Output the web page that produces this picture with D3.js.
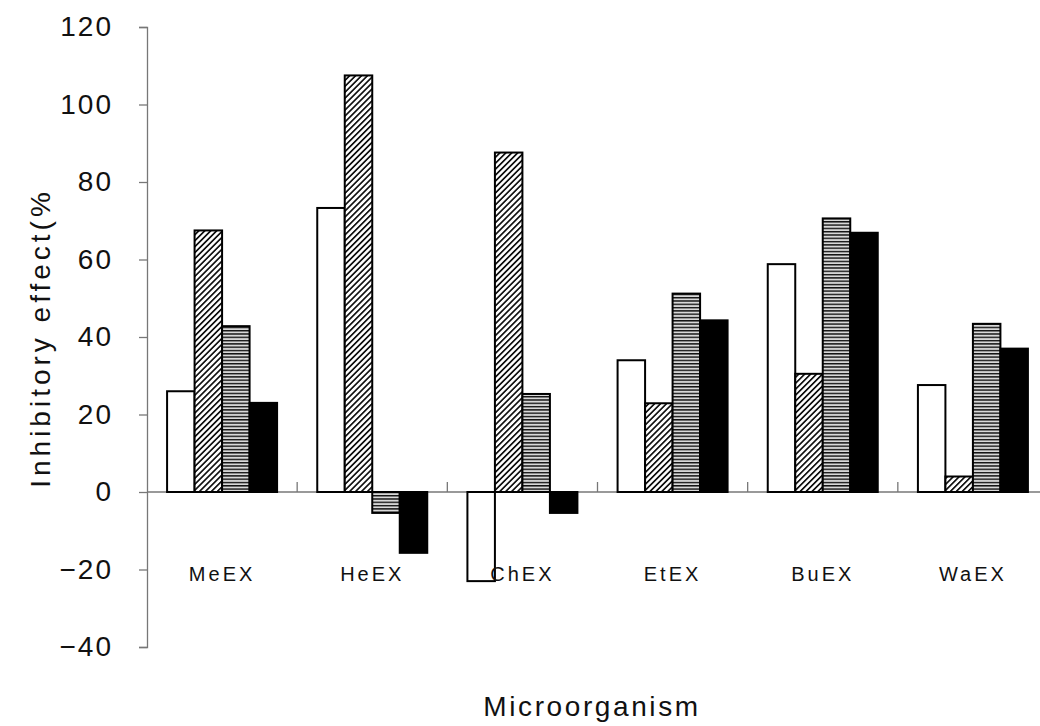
<!DOCTYPE html>
<html>
<head>
<meta charset="utf-8">
<script src="https://cdn.jsdelivr.net/npm/d3@7"></script>
<style>
  html, body { margin: 0; padding: 0; background: #fff; }
  svg { display: block; }
  text { font-family: "Liberation Sans", Arial, sans-serif; fill: #111; }
</style>
</head>
<body>
<svg id="chart" width="1040" height="726"></svg>
<script>
// Extract fractions
const categories = ["MeEX", "HeEX", "ChEX", "EtEX", "BuEX", "WaEX"];
// Four test series, one bar each per extract (inhibitory effect, %)
const seriesKeys = ["s1", "s2", "s3", "s4"];
const s1 = [26, 73.3, -23, 34, 58.8, 27.6];
const s2 = [67.5, 107.5, 87.6, 22.9, 30.5, 4.0];
const s3 = [42.8, -5.4, 25.3, 51.2, 70.6, 43.4];
const s4 = [23.0, -15.7, -5.4, 44.3, 66.9, 37.0];
const seriesValues = [s1, s2, s3, s4];
const yTicks = [-40, -20, 0, 20, 40, 60, 80, 100, 120];

const svg = d3.select("#chart");
const defs = svg.append("defs");

// Fill patterns: plain white, diagonal hatch, horizontal stripes, solid black
const diag = defs.append("pattern")
  .attr("id", "diag").attr("patternUnits", "userSpaceOnUse")
  .attr("width", 4.2).attr("height", 4.2)
  .attr("patternTransform", "rotate(45)");
diag.append("rect").attr("width", 4.2).attr("height", 4.2).attr("fill", "#fff");
diag.append("rect").attr("x", 0).attr("width", 1.7).attr("height", 4.2).attr("fill", "#111");

const horiz = defs.append("pattern")
  .attr("id", "horiz").attr("patternUnits", "userSpaceOnUse")
  .attr("width", 6).attr("height", 3.3);
horiz.append("rect").attr("width", 6).attr("height", 3.3).attr("fill", "#d8d8d8");
horiz.append("rect").attr("y", 0).attr("width", 6).attr("height", 1.4).attr("fill", "#111");

const fills = ["#fff", "url(#diag)", "url(#horiz)", "#000"];

// Scales
const y = d3.scaleLinear().domain([-40, 120]).range([647, 27]);
const x = d3.scaleBand().domain(categories).range([147, 1048]).paddingInner(0).paddingOuter(0);
const groupW = 110;
const xs = d3.scaleBand().domain(seriesKeys).range([0, groupW]);
const groupOffset = (x.bandwidth() - groupW) / 2;

// Y axis
const yAxis = svg.append("g")
  .attr("transform", `translate(147,0)`)
  .call(d3.axisLeft(y).tickValues(yTicks).tickSize(8).tickPadding(26)
    .tickFormat(d3.format("d")));
yAxis.select(".domain").attr("stroke", "#777").attr("stroke-width", 1.3);
yAxis.selectAll(".tick line").attr("stroke", "#777").attr("stroke-width", 1.3);
yAxis.selectAll(".tick text")
  .style("font-size", "28px")
  .style("letter-spacing", "2px")
  .attr("fill", "#111");

// Zero baseline with category separators
const xAxis = svg.append("g")
  .attr("transform", `translate(0,${y(0)})`)
  .call(d3.axisTop(x).tickSize(0).tickFormat(""));
xAxis.select(".domain").remove();
xAxis.selectAll(".tick").remove();
xAxis.append("line")
  .attr("x1", 147).attr("x2", 1040).attr("y1", 0).attr("y2", 0)
  .attr("stroke", "#777").attr("stroke-width", 1.3);
xAxis.selectAll("line.sep")
  .data(categories.slice(1).map(c => x(c)))
  .join("line").attr("class", "sep")
  .attr("x1", d => d).attr("x2", d => d)
  .attr("y1", 0).attr("y2", -10)
  .attr("stroke", "#777").attr("stroke-width", 1.3);

// Bars
const groups = svg.append("g").selectAll("g")
  .data(categories)
  .join("g")
  .attr("transform", c => `translate(${x(c) + groupOffset},0)`);

groups.selectAll("rect")
  .data((c, ci) => seriesKeys.map((k, si) => ({ key: k, si, v: seriesValues[si][ci] })))
  .join("rect")
  .attr("x", d => xs(d.key))
  .attr("width", xs.bandwidth())
  .attr("y", d => y(Math.max(0, d.v)))
  .attr("height", d => Math.abs(y(d.v) - y(0)))
  .attr("fill", d => fills[d.si])
  .attr("stroke", "#000")
  .attr("stroke-width", 2);

// Category labels
svg.append("g").selectAll("text")
  .data(categories)
  .join("text")
  .attr("x", c => x(c) + x.bandwidth() / 2)
  .attr("y", 581)
  .attr("text-anchor", "middle")
  .style("font-size", "20px")
  .style("letter-spacing", "3px")
  .text(c => c);

// Axis titles
svg.append("text")
  .attr("x", 592).attr("y", 716)
  .attr("text-anchor", "middle")
  .style("font-size", "28px")
  .style("letter-spacing", "2.6px")
  .text("Microorganism");

svg.append("text")
  .attr("transform", "translate(50,338) rotate(-90)")
  .attr("text-anchor", "middle")
  .style("font-size", "28px")
  .style("letter-spacing", "4px")
  .text("Inhibitory effect(%");
</script>
</body>
</html>
